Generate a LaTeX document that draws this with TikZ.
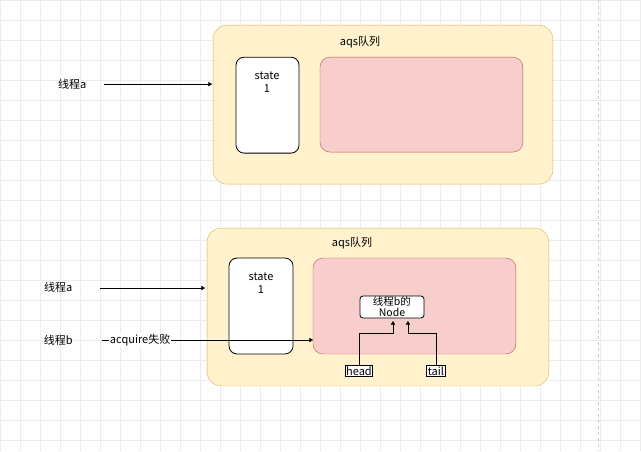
\documentclass[tikz,border=0pt]{standalone}
\usepackage{fontspec}
\setmainfont{Noto Sans CJK SC}
\usetikzlibrary{arrows.meta, positioning}
\definecolor{qyellow}{HTML}{FFF2CC}
\definecolor{qyellowline}{HTML}{D6B656}
\definecolor{qred}{HTML}{F8CECC}
\definecolor{qredline}{HTML}{B85450}

\begin{document}
\begin{tikzpicture}[x=1pt, y=-1pt, >=Triangle, font=\fontsize{11}{13}\selectfont,
    queue/.style={draw=qyellowline, fill=qyellow, rounded corners=14pt},
    statebox/.style={draw, fill=white, rounded corners=8pt, thick},
    nodes area/.style={draw=qredline, fill=qred, rounded corners=10pt},
    tag/.style={draw, thick, inner sep=1pt, fill=white}]
    % background
    \fill[white] (0,0) rectangle (641,451);
    \foreach \gx in {0,20,...,640} \draw[gray!15] (\gx,0) -- (\gx,451);
    \foreach \gy in {0,20,...,440} \draw[gray!15] (0,\gy) -- (641,\gy);
    \draw[gray!40, dashed] (598,0) -- (598,451);

    % upper queue
    \draw[queue] (213,25) rectangle (553,184);
    \node (Title1) at (360,42) {aqs队列};
    \draw[statebox] (236,57) rectangle (299,153);
    \node[align=center] (State1) at (267,82) {state\\1};
    \draw[nodes area] (320,57) rectangle (523,152);
    \node (A1) at (72,84) {线程a};
    \coordinate (A1end) at (212,84);
    \draw[->] (A1.east) ++(14,0) -- (A1end);

    % lower queue
    \draw[queue] (207,228) rectangle (549,386);
    \node (Title2) at (352,243) {aqs队列};
    \draw[statebox] (229,258) rectangle (293,354);
    \node[align=center] (State2) at (261,283) {state\\1};
    \draw[nodes area] (313,258) rectangle (516,354);
    \node[draw, thick, fill=white, rounded corners=3pt, align=center, inner sep=1pt,
          minimum width=64pt, font=\fontsize{10.5}{11}\selectfont] (BNode) at (392,307) {线程b的\\Node};
    \node[tag] (Head) at (359,371) {head};
    \node[tag] (Tail) at (436,371) {tail};
    \draw[->] (Head.north) |- (393,333) -- (393,321);
    \draw[->] (Tail.north) |- (408,333) -- (408,321);

    \node (A2) at (58,287) {线程a};
    \coordinate (A2end) at (205,288);
    \draw[->] (100,288) -- (A2end);
    \node (B2) at (58,340) {线程b};
    \coordinate (B2end) at (313,340);
    \draw[->] (102,340) -- (B2end);
    \node[fill=white, inner sep=1pt] (Fail) at (140,340) {acquire失败};
\end{tikzpicture}
\end{document}
